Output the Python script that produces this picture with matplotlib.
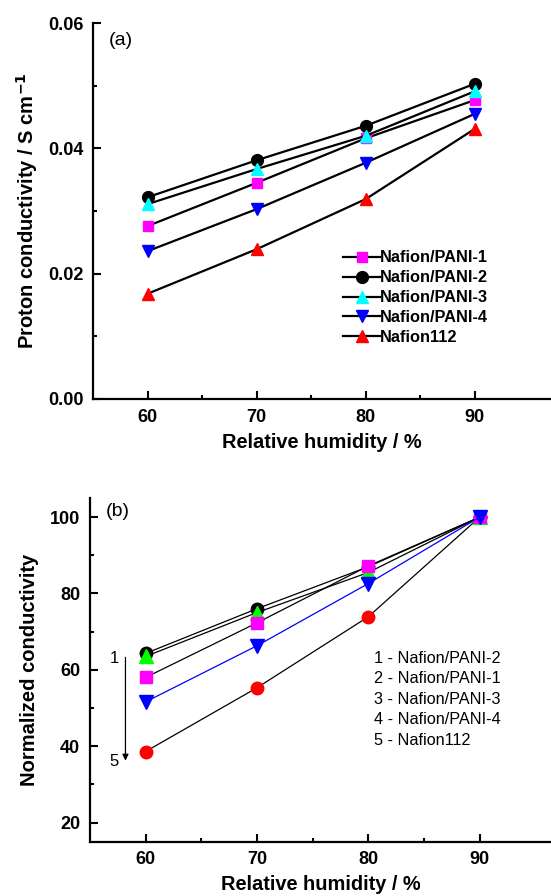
import matplotlib
matplotlib.use("Agg")
import matplotlib.pyplot as plt

plt.rcParams['font.family'] = ['Liberation Sans', 'DejaVu Sans']

# relative humidity (%)
rh = [60, 70, 80, 90]

# (a) proton conductivity / S cm-1
pani1 = [0.0276, 0.0345, 0.0416, 0.0477]
pani2 = [0.0322, 0.0381, 0.0436, 0.0503]
pani3 = [0.0311, 0.0367, 0.0420, 0.0491]
pani4 = [0.0236, 0.0303, 0.0377, 0.0455]
naf112 = [0.0168, 0.0239, 0.0319, 0.0431]

# (b) normalized conductivity
n_pani2 = [64.3, 76.0, 87.0, 100]
n_pani1 = [58.0, 72.3, 87.2, 100]
n_pani3 = [63.5, 75.0, 85.5, 100]
n_pani4 = [51.6, 66.3, 82.6, 100]
n_naf112 = [38.6, 55.3, 73.9, 100]

b_labels = ["1 - Nafion/PANI-2", "2 - Nafion/PANI-1", "3 - Nafion/PANI-3",
            "4 - Nafion/PANI-4", "5 - Nafion112"]

fig = plt.figure(figsize=(5.51, 8.96), dpi=100)
ax1 = fig.add_axes([0.169, 0.5547, 0.831, 0.4196])
ax2 = fig.add_axes([0.163, 0.0606, 0.837, 0.3836])


def style(ax):
    for s in ["top", "right"]:
        ax.spines[s].set_visible(False)
    for s in ["left", "bottom"]:
        ax.spines[s].set_linewidth(1.6)
    ax.tick_params(which="both", direction="in", width=1.5)
    ax.tick_params(which="major", length=6, labelsize=13, pad=7)
    ax.tick_params(which="minor", length=3)
    for lab in ax.get_xticklabels() + ax.get_yticklabels():
        lab.set_fontweight("bold")


# ---- panel (a)
lw = 1.6
ax1.plot(rh, pani1, color="k", lw=lw, marker="s", ms=7.5, mfc="#ff00ff", mec="#ff00ff", label="Nafion/PANI-1")
ax1.plot(rh, pani2, color="k", lw=lw, marker="o", ms=8.5, mfc="k", mec="k", label="Nafion/PANI-2")
ax1.plot(rh, pani3, color="k", lw=lw, marker="^", ms=8.5, mfc="#00ffff", mec="#00ffff", label="Nafion/PANI-3")
ax1.plot(rh, pani4, color="k", lw=lw, marker="v", ms=8.5, mfc="#0000ff", mec="#0000ff", label="Nafion/PANI-4")
ax1.plot(rh, naf112, color="k", lw=lw, marker="^", ms=9, mfc="#ff0000", mec="#ff0000", label="Nafion112")

ax1.set_xlim(55, 97)
ax1.set_ylim(0, 0.06)
ax1.set_xticks([60, 70, 80, 90])
ax1.set_xticks([65, 75, 85], minor=True)
ax1.set_yticks([0.0, 0.02, 0.04, 0.06])
ax1.set_yticks([0.01, 0.03, 0.05], minor=True)
ax1.set_yticklabels(["0.00", "0.02", "0.04", "0.06"])
style(ax1)
ax1.set_xlabel("Relative humidity / %", fontsize=14.4, fontweight="bold", labelpad=5)
ax1.set_ylabel("Proton conductivity / S cm$^{\\mathbf{-1}}$", fontsize=14.5, fontweight="bold", labelpad=6)
ax1.text(0.035, 0.975, "(a)", transform=ax1.transAxes, fontsize=14, va="top", ha="left")
ax1.legend(loc="upper left", bbox_to_anchor=(0.545, 0.395), frameon=False,
           prop={"weight": "bold", "size": 11.8}, handlelength=2.3, handletextpad=0.0,
           labelspacing=0.3, borderpad=0, borderaxespad=0)

# ---- panel (b)
lw2 = 0.9
ax2.plot(rh, n_naf112, color="k", lw=lw2, marker="o", ms=9, mfc="#ff0000", mec="#ff0000")
ax2.plot(rh, n_pani2, color="k", lw=lw2, marker="o", ms=9, mfc="k", mec="k")
ax2.plot(rh, n_pani3, color="k", lw=lw2, marker="^", ms=9.5, mfc="#00ff00", mec="#00ff00")
ax2.plot(rh, n_pani1, color="k", lw=lw2, marker="s", ms=8, mfc="#ff00ff", mec="#ff00ff")
ax2.plot(rh, n_pani4, color="#0000ff", lw=lw2, marker="v", ms=9.5, mfc="#0000ff", mec="#0000ff")

ax2.set_xlim(55, 96.4)
ax2.set_ylim(15, 105)
ax2.set_xticks([60, 70, 80, 90])
ax2.set_xticks([65, 75, 85], minor=True)
ax2.set_yticks([20, 40, 60, 80, 100])
ax2.set_yticks([30, 50, 70, 90], minor=True)
style(ax2)
ax2.set_xlabel("Relative humidity / %", fontsize=14.4, fontweight="bold", labelpad=5)
ax2.set_ylabel("Normalized conductivity", fontsize=14.5, fontweight="bold", labelpad=8)
ax2.text(0.035, 0.985, "(b)", transform=ax2.transAxes, fontsize=14, va="top", ha="left")

ax2.annotate("", xy=(58.2, 35.5), xytext=(58.2, 64),
             arrowprops=dict(arrowstyle="-|>", color="k", lw=0.9, mutation_scale=9))
ax2.text(57.2, 63, "1", fontsize=12, ha="center", va="center")
ax2.text(57.2, 36, "5", fontsize=12, ha="center", va="center")
ax2.text(0.616, 0.555, "\n".join(b_labels), transform=ax2.transAxes, fontsize=11.7,
         ha="left", va="top", linespacing=1.45)

fig.savefig("out.png", dpi=100)
